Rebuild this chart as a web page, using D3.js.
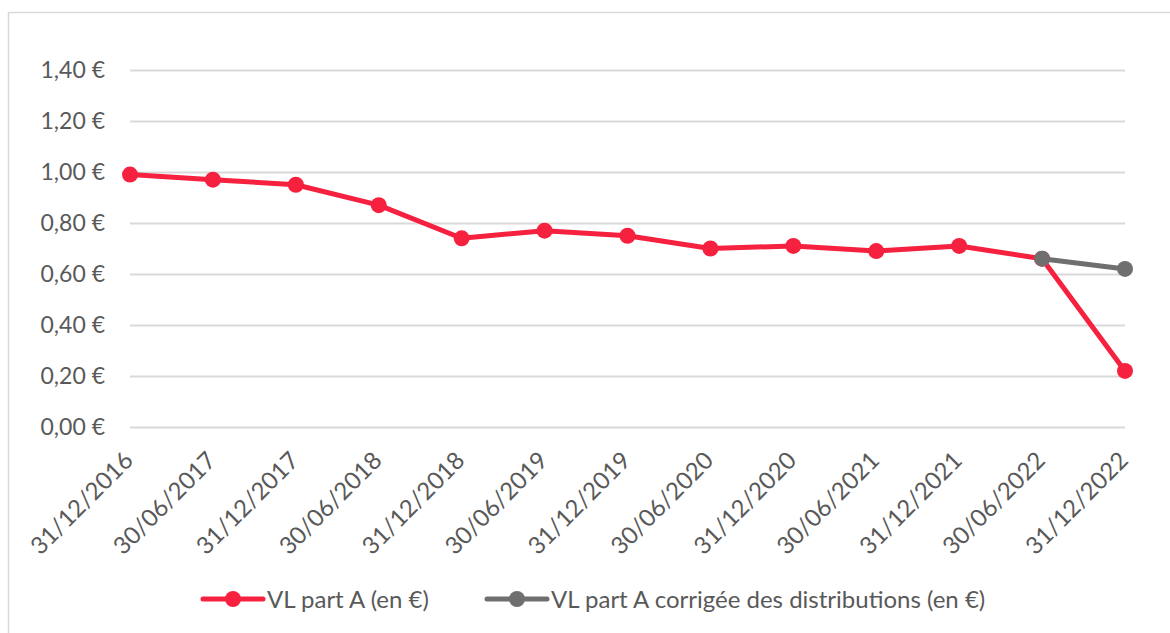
<!DOCTYPE html>
<html>
<head>
<meta charset="utf-8">
<script src="https://cdn.jsdelivr.net/npm/d3@7"></script>
<style>
  body { margin: 0; background: #fff; }
  text { font-family: Lato, "Open Sans", sans-serif; fill: #595959; }
</style>
</head>
<body>
<div id="viz"></div>
<script>
var width = 1170,
    height = 633;

// data
var dates = ["31/12/2016", "30/06/2017", "31/12/2017", "30/06/2018", "31/12/2018", "30/06/2019",
             "31/12/2019", "30/06/2020", "31/12/2020", "30/06/2021", "31/12/2021", "30/06/2022", "31/12/2022"];
var vlPartA = [0.99, 0.97, 0.95, 0.87, 0.74, 0.77, 0.75, 0.70, 0.71, 0.69, 0.71, 0.66, 0.22];
var vlCorrigee = [null, null, null, null, null, null, null, null, null, null, null, 0.66, 0.62];
var yTicks = [0, 0.2, 0.4, 0.6, 0.8, 1.0, 1.2, 1.4];
var seriesNames = ["VL part A (en €)", "VL part A corrigée des distributions (en €)"];
var seriesColors = ["#f5213f", "#6f6f6f"];

var svg = d3.select("#viz")
    .append("svg")
    .attr("width", width)
    .attr("height", height);

// outer chart border
svg.append("rect")
    .attr("x", 8.5).attr("y", 12.5)
    .attr("width", width).attr("height", height)
    .attr("fill", "none")
    .attr("stroke", "#d9d9d9")
    .attr("stroke-width", 1.5);

var x = d3.scalePoint()
    .domain(dates)
    .range([130, 1125]);

var y = d3.scaleLinear()
    .domain([0, 1.4])
    .range([427, 70]);

var fmt = function(v) { return d3.format(".2f")(v).replace(".", ",") + " €"; };

// gridlines + y labels
var yAxis = svg.append("g")
    .attr("transform", "translate(130,0)")
    .call(d3.axisLeft(y).tickValues(yTicks).tickSize(-(1125 - 130)).tickPadding(25).tickFormat(fmt));
yAxis.select(".domain").remove();
yAxis.selectAll(".tick line").attr("stroke", "#d9d9d9").attr("stroke-width", 2);
yAxis.selectAll(".tick text").style("font-size", "23px").attr("fill", "#595959");

// x labels, rotated
var xAxis = svg.append("g")
    .attr("transform", "translate(0,427)")
    .call(d3.axisBottom(x).tickSize(0).tickPadding(0));
xAxis.select(".domain").remove();
xAxis.selectAll(".tick text")
    .style("font-size", "24px")
    .attr("fill", "#595959")
    .attr("text-anchor", "end")
    .attr("dy", null)
    .attr("y", 0)
    .attr("transform", "translate(4,35) rotate(-45)");

function drawSeries(values, color) {
  var pts = dates.map(function(d, i) { return {date: d, v: values[i]}; })
                 .filter(function(d) { return d.v != null; });
  var line = d3.line()
      .x(function(d) { return x(d.date); })
      .y(function(d) { return y(d.v); });
  svg.append("path")
      .datum(pts)
      .attr("d", line)
      .attr("fill", "none")
      .attr("stroke", color)
      .attr("stroke-width", 5)
      .attr("stroke-linejoin", "round");
  svg.append("g").selectAll("circle")
      .data(pts)
      .enter().append("circle")
      .attr("cx", function(d) { return x(d.date); })
      .attr("cy", function(d) { return y(d.v); })
      .attr("r", 8)
      .attr("fill", color);
}

drawSeries(vlPartA, seriesColors[0]);
drawSeries(vlCorrigee, seriesColors[1]);

// legend
var legendX = [203, 487];
var legend = svg.append("g").selectAll("g")
    .data(seriesNames)
    .enter().append("g")
    .attr("transform", function(d, i) { return "translate(" + legendX[i] + ",599)"; });
legend.append("line")
    .attr("x1", 0).attr("x2", 60)
    .attr("stroke", function(d, i) { return seriesColors[i]; })
    .attr("stroke-width", 5)
    .attr("stroke-linecap", "round");
legend.append("circle")
    .attr("cx", 30).attr("r", 8)
    .attr("fill", function(d, i) { return seriesColors[i]; });
legend.append("text")
    .attr("x", 64).attr("y", 9)
    .style("font-size", "24px")
    .text(function(d) { return d; });
</script>
</body>
</html>
